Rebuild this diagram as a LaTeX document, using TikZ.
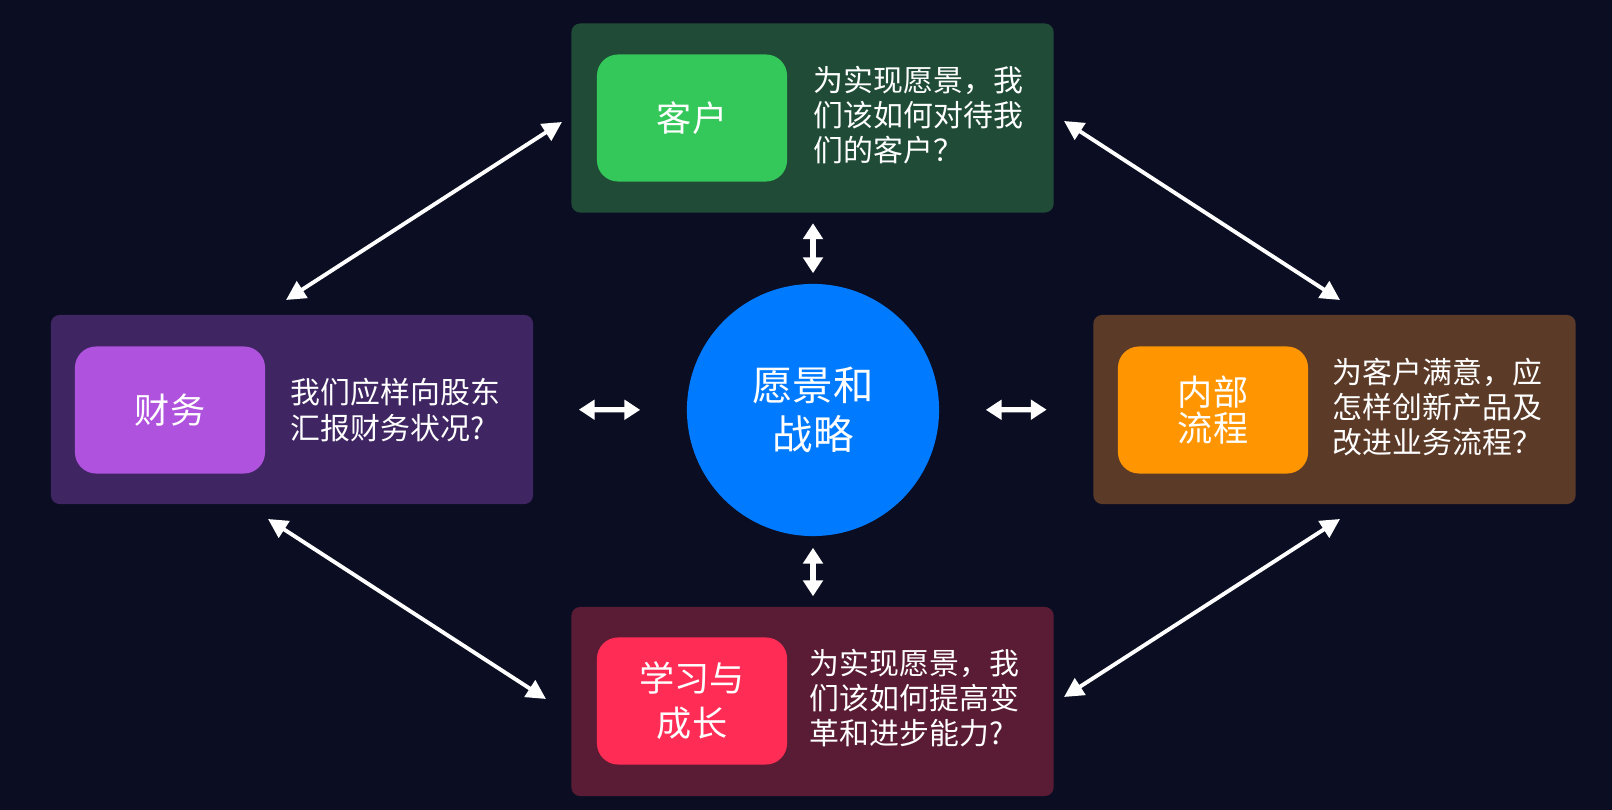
\documentclass[tikz,border=0pt]{standalone}
\usepackage{fontspec}
\setmainfont{Noto Sans CJK SC}
\usetikzlibrary{arrows.meta}

\definecolor{bgnavy}{HTML}{0B0E22}
\definecolor{kehudark}{HTML}{1F4B37}
\definecolor{kehulight}{HTML}{34C759}
\definecolor{caiwudark}{HTML}{3F2562}
\definecolor{caiwulight}{HTML}{AF52DE}
\definecolor{neibudark}{HTML}{5B3A27}
\definecolor{neibulight}{HTML}{FF9500}
\definecolor{xuexidark}{HTML}{5A1B34}
\definecolor{xuexilight}{HTML}{FF2D55}
\definecolor{hubblue}{HTML}{007AFF}

\begin{document}
\begin{tikzpicture}[x=0.01cm,y=-0.01cm,line cap=round,line join=round,
  panel/.style={rounded corners=2.5pt,minimum width=4.82cm,minimum height=1.89cm,inner sep=0pt},
  tag/.style={rounded corners=6pt,minimum width=1.90cm,minimum height=1.27cm,text=white,align=center,inner sep=0pt},
  ask/.style={anchor=west,text=white,align=left,inner sep=0pt,font=\fontsize{8.5}{10}\selectfont},
  link/.style={white,line width=1.1pt,{Triangle[length=5.5pt,width=5.5pt]}-{Triangle[length=5.5pt,width=5.5pt]}},
  hop/.style={white,line width=1.5pt,{Triangle[length=4.5pt,width=5.5pt]}-{Triangle[length=4.5pt,width=5.5pt]}}]
  \useasboundingbox (0,0) rectangle (1612,810);
  \fill[bgnavy] (0,0) rectangle (1612,810);

  % four panels
  \node[panel,fill=kehudark] (kehu) at (812.5,118) {};
  \node[panel,fill=caiwudark] (caiwu) at (292,409.5) {};
  \node[panel,fill=neibudark] (neibu) at (1334.5,409.5) {};
  \node[panel,fill=xuexidark] (xuexi) at (812.5,701.5) {};

  \node[tag,fill=kehulight,font=\fontsize{10}{10.5}\selectfont] (kehutag) at (692,118) {客户};
  \node[tag,fill=caiwulight,font=\fontsize{10}{10.5}\selectfont] (caiwutag) at (170,410) {财务};
  \node[tag,fill=neibulight,font=\fontsize{10}{10.5}\selectfont] (neibutag) at (1213,410) {内部\\流程};
  \node[tag,fill=xuexilight,font=\fontsize{10}{12.8}\selectfont] (xuexitag) at (692,701) {学习与\\成长};

  \node[ask] (kehuask) at (813,115) {为实现愿景，我\\们该如何对待我\\们的客户？};
  \node[ask] (caiwuask) at (290,410) {我们应样向股东\\汇报财务状况?};
  \node[ask] (neibuask) at (1332,407) {为客户满意，应\\怎样创新产品及\\改进业务流程？};
  \node[ask] (xuexiask) at (809,698) {为实现愿景，我\\们该如何提高变\\革和进步能力?};

  % centre
  \node[circle,fill=hubblue,minimum size=2.52cm,inner sep=0pt,text=white,align=center,
    font=\fontsize{11.5}{14}\selectfont] (hub) at (813,410) {愿景和\\战略};

  \draw[hop,shorten <=0.1cm,shorten >=0.1cm] (kehu.south -| hub.north) -- (hub.north);
  \draw[hop,shorten <=0.11cm,shorten >=0.1cm] (hub.south) -- (xuexi.north -| hub.south);
  \draw[hop,shorten <=0.45cm,shorten >=0.46cm] (caiwu.east) -- (hub.west);
  \draw[hop,shorten <=0.46cm,shorten >=0.46cm] (hub.east) -- (neibu.west);

  % diagonal links
  \coordinate (tlA) at (286,300);
  \coordinate (tlB) at (562,122);
  \coordinate (trA) at (1064,121);
  \coordinate (trB) at (1340,300);
  \coordinate (blA) at (268,519);
  \coordinate (blB) at (546,699);
  \coordinate (brA) at (1064,697);
  \coordinate (brB) at (1340,519);
  \draw[link] (tlA) -- (tlB);
  \draw[link] (trA) -- (trB);
  \draw[link] (blA) -- (blB);
  \draw[link] (brA) -- (brB);
\end{tikzpicture}
\end{document}
